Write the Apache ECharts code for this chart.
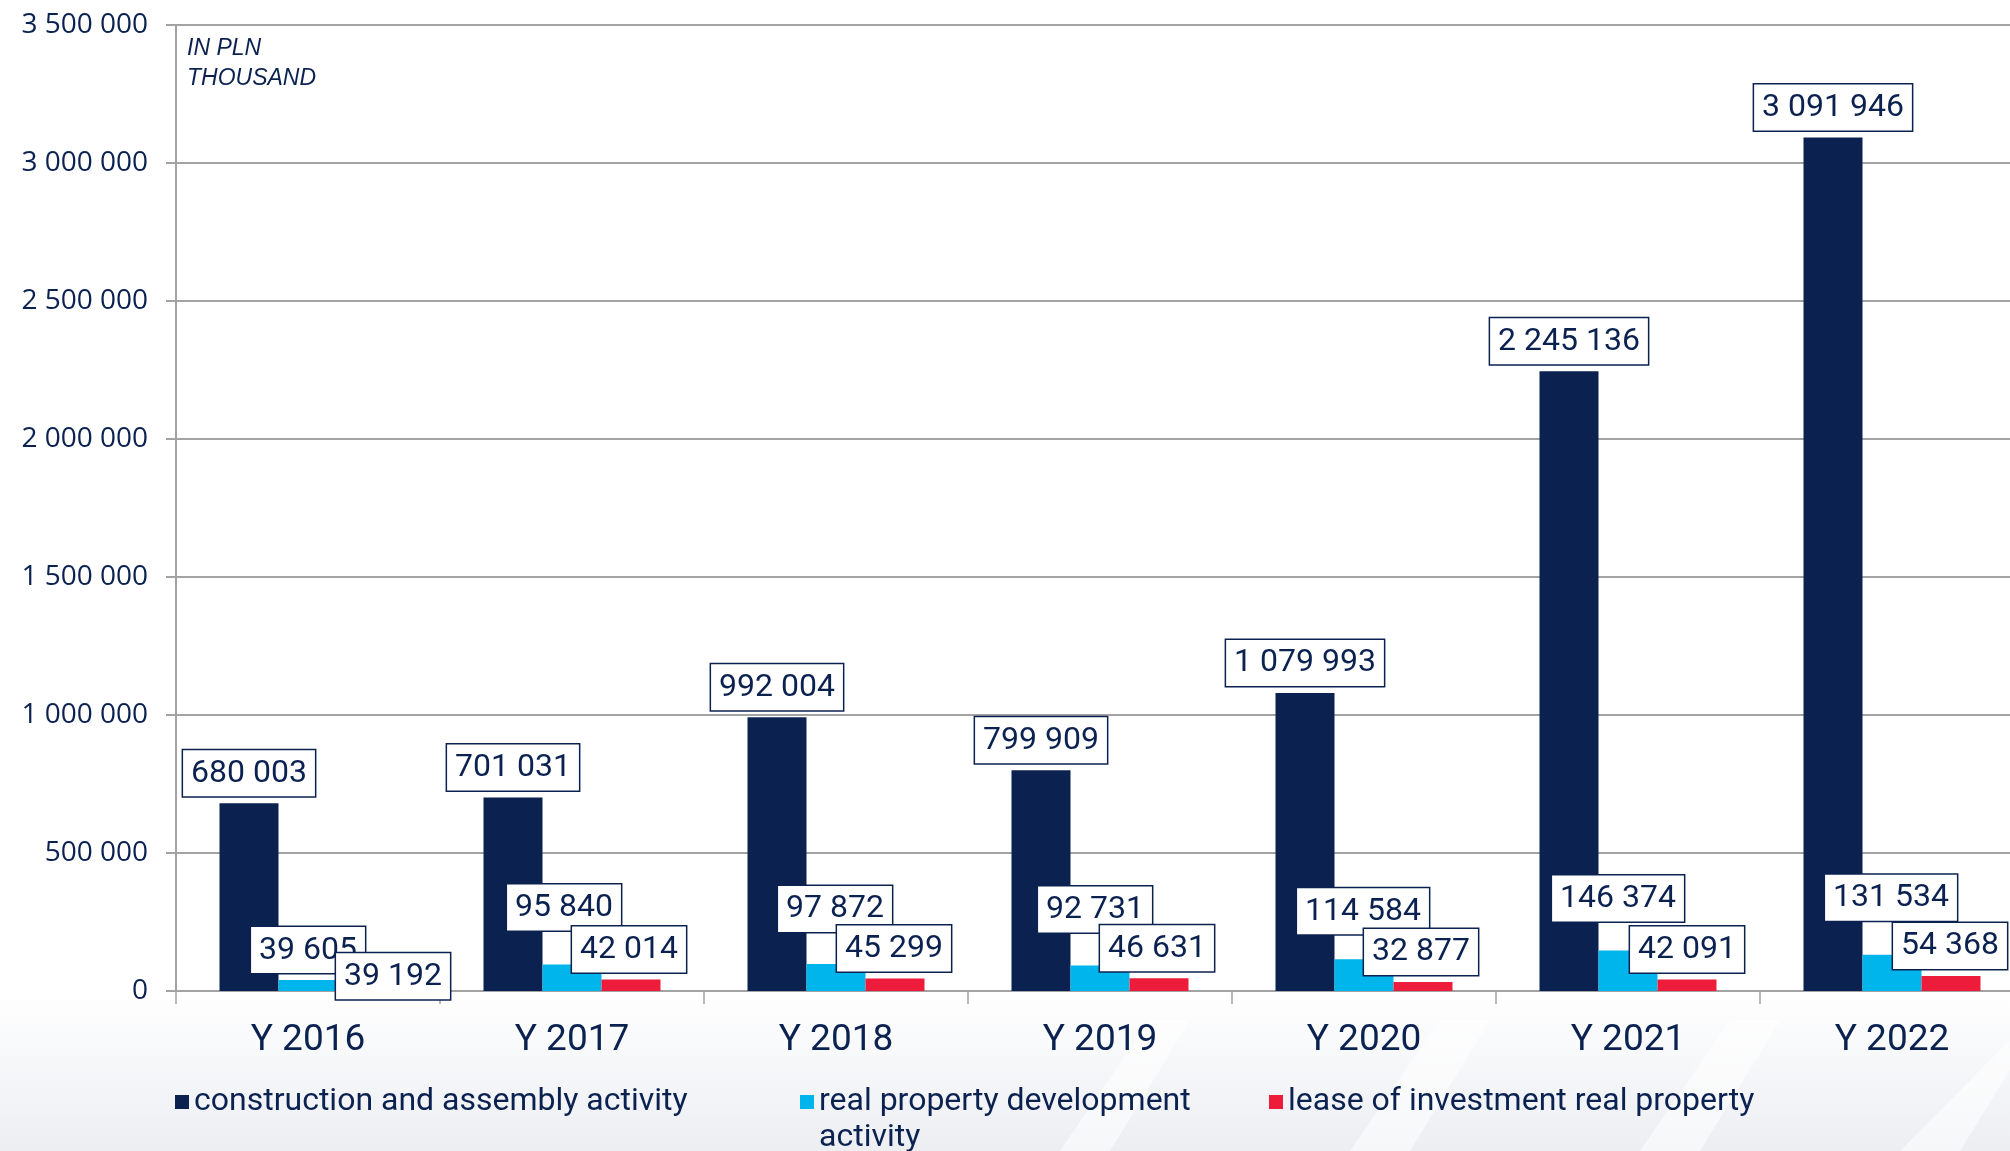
<!DOCTYPE html>
<html>
<head>
<meta charset="utf-8">
<script src="https://cdn.jsdelivr.net/npm/echarts@6/dist/echarts.min.js"></script>
<style>
  html, body { margin: 0; padding: 0; background: #fff; }
  #chart { width: 2010px; height: 1151px; }
</style>
</head>
<body>
<div id="chart"></div>
<script>
// data (PLN thousand)
var years = ['Y 2016', 'Y 2017', 'Y 2018', 'Y 2019', 'Y 2020', 'Y 2021', 'Y 2022'];
var construction = [680003, 701031, 992004, 799909, 1079993, 2245136, 3091946];
var development = [39605, 95840, 97872, 92731, 114584, 146374, 131534];
var lease = [39192, 42014, 45299, 46631, 32877, 42091, 54368];
var seriesNames = ['construction and assembly activity', 'real property development activity', 'lease of investment real property'];

// label nudges, like the hand-moved labels in the original
var devLabelShift = [[0, 0], [-8, -27], [-1, -25], [-5, -26], [-1, -18], [-10, -22], [-1, -27]];
var leaseLabelShift = [[26, 26], [-2, 0], [-1, 0], [-2, 0], [-2, 0], [0, 0], [-1, 0]];

var NAVY = '#0b2251';
var BLUE = '#00b4ec';
var RED = '#ec1c3a';
var GREY = '#a3a3a3';

var fmt = function (v) {
    return String(v).replace(/\B(?=(\d{3})+(?!\d))/g, ' ');
};

var labelStyle = {
    show: true,
    position: 'top',
    distance: 7,
    formatter: function (p) { return fmt(p.value); },
    color: NAVY,
    fontFamily: 'Roboto',
    fontSize: 32,
    lineHeight: 33,
    backgroundColor: '#fff',
    borderColor: NAVY,
    borderWidth: 1.5,
    padding: [7, 8, 6, 8]
};

let withShift = (vals, shifts) => vals.map((v, i) => ({
    value: v,
    label: { offset: shifts[i] }
}));

var dom = document.getElementById('chart');
var chart = echarts.init(dom, null, { renderer: 'canvas' });

var legendText = {
    color: NAVY,
    fontFamily: 'Roboto',
    fontSize: 32,
    lineHeight: 36
};

var stripe = (pts) => ({
    type: 'polygon', z: -9, silent: true,
    shape: { points: pts },
    style: { fill: 'rgba(255,255,255,0.55)' }
});

var option = {
    animation: false,
    color: [NAVY, BLUE, RED],
    graphic: [
        {
            type: 'rect', z: -10, silent: true,
            shape: { x: 0, y: 990, width: 2010, height: 161 },
            style: {
                fill: new echarts.graphic.LinearGradient(0, 0, 0, 1, [
                    { offset: 0, color: '#ffffff' },
                    { offset: 1, color: '#eceef2' }
                ])
            }
        },
        stripe([[1060, 1151], [1110, 1151], [1190, 1020], [1150, 1020]]),
        stripe([[1350, 1151], [1410, 1151], [1490, 1020], [1440, 1020]]),
        stripe([[1640, 1151], [1700, 1151], [1780, 1020], [1730, 1020]]),
        stripe([[1900, 1151], [1960, 1151], [2010, 1070], [2010, 1040]])
    ],
    title: {
        text: 'IN PLN\nTHOUSAND',
        left: 187,
        top: 34,
        padding: 0,
        textStyle: {
            color: NAVY,
            fontFamily: "'Liberation Sans', Arial, sans-serif",
            fontStyle: 'italic',
            fontWeight: 'normal',
            fontSize: 23,
            lineHeight: 30
        }
    },
    legend: [
        {
            data: [seriesNames[0]],
            left: 175, top: 1084, padding: 0,
            itemWidth: 14, itemHeight: 14, icon: 'rect',
            textStyle: legendText
        },
        {
            data: [seriesNames[1]],
            left: 800, top: 1048, padding: 0,
            itemWidth: 14, itemHeight: 14, icon: 'rect',
            // empty first line keeps the marker on the text's first row
            formatter: function () { return '\nreal property development\nactivity'; },
            textStyle: legendText
        },
        {
            data: [seriesNames[2]],
            left: 1269, top: 1084, padding: 0,
            itemWidth: 14, itemHeight: 14, icon: 'rect',
            textStyle: legendText
        }
    ],
    grid: {
        left: 176,
        width: 1848,
        top: 25,
        bottom: 160,
        outerBoundsMode: 'none',
        containLabel: false
    },
    xAxis: {
        type: 'category',
        data: years,
        axisLine: { lineStyle: { color: GREY, width: 2 } },
        axisTick: { show: true, length: 13, lineStyle: { color: GREY, width: 1.5 } },
        axisLabel: {
            color: NAVY,
            fontFamily: 'Roboto',
            fontSize: 37,
            margin: 31
        }
    },
    yAxis: {
        type: 'value',
        min: 0,
        max: 3500000,
        interval: 500000,
        axisLine: { show: true, lineStyle: { color: GREY, width: 2 } },
        axisTick: { show: true, length: 10, lineStyle: { color: GREY, width: 2 } },
        splitLine: { lineStyle: { color: GREY, width: 2 } },
        axisLabel: {
            color: NAVY,
            fontFamily: "'Open Sans', sans-serif",
            fontSize: 28,
            margin: 28,
            formatter: function (v) { return fmt(v); }
        }
    },
    series: [
        {
            name: seriesNames[0],
            type: 'bar',
            barWidth: 59,
            barGap: '0%',
            data: construction,
            label: labelStyle
        },
        {
            name: seriesNames[1],
            type: 'bar',
            barWidth: 59,
            barGap: '0%',
            data: withShift(development, devLabelShift),
            label: labelStyle
        },
        {
            name: seriesNames[2],
            type: 'bar',
            barWidth: 59,
            barGap: '0%',
            data: withShift(lease, leaseLabelShift),
            label: labelStyle
        }
    ]
};

chart.setOption(option);
window.addEventListener('resize', chart.resize);
</script>
</body>
</html>
